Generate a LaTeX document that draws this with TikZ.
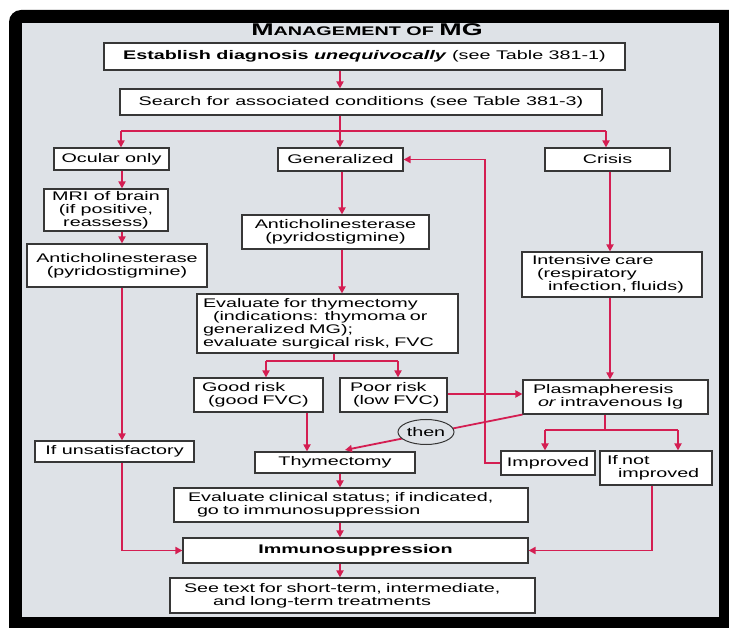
\documentclass[tikz,border=0pt]{standalone}
\usepackage{fontspec}
\setmainfont{Liberation Sans}[FakeStretch=1.58]
\usetikzlibrary{arrows.meta,shapes.geometric,shadows}
\definecolor{bggray}{RGB}{222,226,231}
\definecolor{mgred}{RGB}{212,30,82}
\definecolor{boxline}{RGB}{55,55,55}
\begin{document}
\begin{tikzpicture}[x=1pt,y=-1pt,
  box/.style={draw=boxline, line width=1.1pt, fill=white, inner sep=0pt,
    font=\fontsize{12.5}{13}\selectfont, align=center,
    drop shadow={shadow xshift=1.3pt, shadow yshift=-1.3pt, fill=black!40, opacity=1}},
  lbox/.style={box, inner xsep=3pt, text width=#1, align=left},
  wire/.style={draw=mgred, line width=1.8pt},
  arr/.style={wire, -{Triangle[length=7pt,width=7pt]}},
  oval/.style={draw=boxline, line width=1pt, fill=bggray, ellipse, inner sep=0pt,
    minimum width=56pt, minimum height=25pt, font=\fontsize{12.5}{13}\selectfont}
]
\useasboundingbox (0,0) rectangle (729,628);
\fill[white] (0,0) rectangle (729,628);
\begin{scope}
  \clip (0,0) rectangle (729,628);
  \fill[black, rounded corners=12pt] (9,10) rectangle (760,660);
\end{scope}
\fill[bggray] (22,23) rectangle (719,617);

% title
\node[font=\bfseries, inner sep=0pt] (title) at (367,30)
  {{\fontsize{17}{17}\selectfont M}{\fontsize{12.5}{13}\selectfont ANAGEMENT OF }{\fontsize{17}{17}\selectfont MG}};

% boxes
\node[box, minimum width=521pt, minimum height=27pt] (est) at (364.5,56.5)
  {\textbf{Establish diagnosis \textit{unequivocally}} (see Table 381-1)};
\node[box, minimum width=482pt, minimum height=26pt] (search) at (361,102)
  {Search for associated conditions (see Table 381-3)};
\node[box, minimum width=115pt, minimum height=22pt] (ocular) at (111.5,159) {Ocular only};
\node[box, minimum width=125pt, minimum height=23pt] (gen) at (340.5,159.5) {Generalized};
\node[box, minimum width=125pt, minimum height=23pt] (crisis) at (607.5,159.5) {Crisis};
\node[box, minimum width=124pt, minimum height=42pt] (mri) at (106,210)
  {MRI of brain\\(if positive,\\reassess)};
\node[box, minimum width=180pt, minimum height=43pt] (antiL) at (117,265.5)
  {Anticholinesterase\\(pyridostigmine)};
\node[box, minimum width=187pt, minimum height=34pt] (antiC) at (335.5,232)
  {Anticholinesterase\\(pyridostigmine)};
\node[lbox=255pt, minimum height=59pt] (evalT) at (327.5,323.5)
  {\hspace*{3pt}Evaluate for thymectomy\\\hspace*{13pt}(indications: thymoma or\\\hspace*{3pt}generalized MG);\\\hspace*{3pt}evaluate surgical risk, FVC};
\node[lbox=174pt, minimum height=45pt] (intens) at (612,274.5)
  {\hspace*{7pt}Intensive care\\\hspace*{12pt}(respiratory\\\hspace*{23pt}infection, fluids)};
\node[lbox=123pt, minimum height=34pt] (good) at (258.5,395)
  {\hspace*{5pt}Good risk\\\hspace*{11pt}(good FVC)};
\node[lbox=101pt, minimum height=34pt] (poor) at (393.5,395)
  {\hspace*{7pt}Poor risk\\\hspace*{10pt}(low FVC)};
\node[lbox=179pt, minimum height=34pt] (plasma) at (615.5,397)
  {\hspace*{7pt}Plasmapheresis\\\hspace*{12pt}\textit{or} intravenous Ig};
\node[box, minimum width=159pt, minimum height=21pt] (unsat) at (114.5,451.5) {If unsatisfactory};
\node[box, minimum width=160pt, minimum height=21pt] (thym) at (335,462.5) {Thymectomy};
\node[box, minimum width=94pt, minimum height=24pt] (improved) at (548,463) {Improved};
\node[lbox=106pt, minimum height=34pt] (notimp) at (656,468)
  {\hspace*{4pt}If not\\\hspace*{15pt}improved};
\node[lbox=348pt, minimum height=34pt] (evalC) at (351,505)
  {\hspace*{11pt}Evaluate clinical status; if indicated,\\\hspace*{20pt}go to immunosuppression};
\node[box, minimum width=345pt, minimum height=25pt] (immuno) at (355.5,550.5)
  {\textbf{Immunosuppression}};
\node[lbox=359pt, minimum height=35pt] (seetext) at (352.5,595.5)
  {\hspace*{11pt}See text for short-term, intermediate,\\\hspace*{40pt}and long-term treatments};

% helper coordinates
\coordinate (v122) at (122,0);
\coordinate (v340) at (340,0);
\coordinate (v342) at (342,0);
\coordinate (v334) at (334,0);
\coordinate (v307) at (307,0);
\coordinate (v610) at (610,0);
\coordinate (v605) at (605,0);
\coordinate (v485) at (485,0);
\coordinate (v652) at (652,0);
\coordinate (h394) at (0,394);
\coordinate (bL) at (121,131);
\coordinate (bR) at (606,131);
\coordinate (sT) at (334,361);
\coordinate (sTL) at (266,361);
\coordinate (sTR) at (398,361);
\coordinate (sP) at (605,430);
\coordinate (sPL) at (545,430);
\coordinate (sPR) at (678,430);
\coordinate (thymend) at (345,450);

% connectors
\draw[arr] (est.south -| v340) -- (search.north -| v340);
\draw[arr] (search.south -| v340) -- (gen.north -| v340);
\draw[wire] (bL) -- (bR);
\draw[arr] (bL) -- (ocular.north -| bL);
\draw[arr] (bR) -- (crisis.north -| bR);
\draw[arr] (ocular.south -| v122) -- (mri.north -| v122);
\draw[arr] (mri.south -| v122) -- (antiL.north -| v122);
\draw[arr] (antiL.south -| v122) -- (unsat.north -| v122);
\draw[arr] (unsat.south -| v122) |- (immuno.west);
\draw[arr] (gen.south -| v342) -- (antiC.north -| v342);
\draw[arr] (antiC.south -| v342) -- (evalT.north -| v342);
\draw[wire] (evalT.south -| v334) -- (sT);
\draw[wire] (sTL) -- (sTR);
\draw[arr] (sTL) -- (good.north -| sTL);
\draw[arr] (sTR) -- (poor.north -| sTR);
\draw[arr] (good.south -| v307) -- (thym.north -| v307);
\draw[arr] (poor.east |- h394) -- (plasma.west |- h394);
\draw[arr] (crisis.south -| v610) -- (intens.north -| v610);
\draw[arr] (intens.south -| v610) -- (plasma.north -| v610);
\draw[wire] (plasma.south -| v605) -- (sP);
\draw[wire] (sPL) -- (sPR);
\draw[arr] (sPL) -- (improved.north -| sPL);
\draw[arr] (sPR) -- (notimp.north -| sPR);
\draw[arr] (improved.west) -- (improved.west -| v485) |- (gen.east);
\draw[arr] (notimp.south -| v652) |- (immuno.east);
\draw[arr] (thym.south -| v340) -- (evalC.north -| v340);
\draw[arr] (evalC.south -| v340) -- (immuno.north -| v340);
\draw[arr] (immuno.south -| v340) -- (seetext.north -| v340);
\draw[arr] (plasma.south west) -- (thymend);
\node[oval] (then) at (426,432) {then};
\end{tikzpicture}
\end{document}
